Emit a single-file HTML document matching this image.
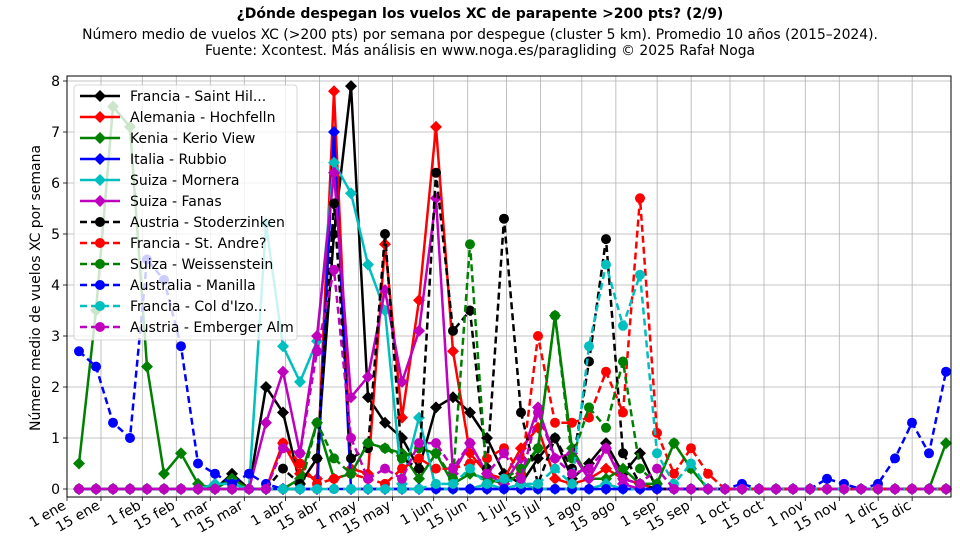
<!DOCTYPE html>
<html><head><meta charset="utf-8"><style>
body{margin:0;background:#fff;}
svg{display:block;font-family:"DejaVu Sans","Liberation Sans",sans-serif;}
</style></head><body>
<svg id="s" width="960" height="540" viewBox="0 0 960 540" xmlns="http://www.w3.org/2000/svg">
<rect width="960" height="540" fill="#fff"/>
<text x="480" y="18" text-anchor="middle" font-size="14" font-weight="bold">¿Dónde despegan los vuelos XC de parapente &gt;200 pts? (2/9)</text>
<text x="480" y="39" text-anchor="middle" font-size="13.9">Número medio de vuelos XC (&gt;200 pts) por semana por despegue (cluster 5 km). Promedio 10 años (2015–2024).</text>
<text x="480" y="55" text-anchor="middle" font-size="13.9">Fuente: Xcontest. Más análisis en www.noga.es/paragliding © 2025 Rafał Noga</text>
<g id="grid" stroke="#b0b0b0" stroke-width="0.8"></g>
<g id="data"></g>
<rect x="67" y="76" width="884" height="421" fill="none" stroke="#000" stroke-width="1"/>
<g font-size="14" text-anchor="end">
<text x="60" y="494">0</text><text x="60" y="443">1</text><text x="60" y="392">2</text><text x="60" y="341">3</text><text x="60" y="290">4</text><text x="60" y="239">5</text><text x="60" y="188">6</text><text x="60" y="137">7</text><text x="60" y="86">8</text>
</g>
<text transform="translate(40,288) rotate(-90)" text-anchor="middle" font-size="14">Número medio de vuelos XC por semana</text>
<g id="xl" font-size="14" text-anchor="end">
<text transform="translate(67,508) rotate(-30)">1 ene</text>
<text transform="translate(101,508) rotate(-30)">15 ene</text>
<text transform="translate(142,508) rotate(-30)">1 feb</text>
<text transform="translate(176,508) rotate(-30)">15 feb</text>
<text transform="translate(210,508) rotate(-30)">1 mar</text>
<text transform="translate(244,508) rotate(-30)">15 mar</text>
<text transform="translate(286,508) rotate(-30)">1 abr</text>
<text transform="translate(320,508) rotate(-30)">15 abr</text>
<text transform="translate(358,508) rotate(-30)">1 may</text>
<text transform="translate(392,508) rotate(-30)">15 may</text>
<text transform="translate(434,508) rotate(-30)">1 jun</text>
<text transform="translate(468,508) rotate(-30)">15 jun</text>
<text transform="translate(507,508) rotate(-30)">1 jul</text>
<text transform="translate(541,508) rotate(-30)">15 jul</text>
<text transform="translate(582,508) rotate(-30)">1 ago</text>
<text transform="translate(616,508) rotate(-30)">15 ago</text>
<text transform="translate(657,508) rotate(-30)">1 sep</text>
<text transform="translate(691,508) rotate(-30)">15 sep</text>
<text transform="translate(730,508) rotate(-30)">1 oct</text>
<text transform="translate(764,508) rotate(-30)">15 oct</text>
<text transform="translate(805,508) rotate(-30)">1 nov</text>
<text transform="translate(839,508) rotate(-30)">15 nov</text>
<text transform="translate(878,508) rotate(-30)">1 dic</text>
<text transform="translate(912,508) rotate(-30)">15 dic</text>
</g>
<g id="leg">
<rect x="74" y="85" width="223" height="255" rx="3" fill="#fff" fill-opacity="0.8" stroke="#ccc" stroke-width="0.8"/>
<g id="legmk"></g>
<g font-size="14">
<text x="130" y="101">Francia - Saint Hil...</text>
<text x="130" y="122">Alemania - Hochfelln</text>
<text x="130" y="143">Kenia - Kerio View</text>
<text x="130" y="164">Italia - Rubbio</text>
<text x="130" y="185">Suiza - Mornera</text>
<text x="130" y="206">Suiza - Fanas</text>
<text x="130" y="227">Austria - Stoderzinken</text>
<text x="130" y="248">Francia - St. Andre?</text>
<text x="130" y="269">Suiza - Weissenstein</text>
<text x="130" y="290">Australia - Manilla</text>
<text x="130" y="311">Francia - Col d'Izo...</text>
<text x="130" y="332">Austria - Emberger Alm</text>
</g>
</g>
</svg>
<script>
(function(){
var NS="http://www.w3.org/2000/svg";
function el(p,t,a){var e=document.createElementNS(NS,t);for(var k in a)e.setAttribute(k,a[k]);p.appendChild(e);return e;}
var grid=document.getElementById('grid');
var xt=[0,14,31,45,59,73,90,104,120,134,151,165,181,195,212,226,243,257,273,287,304,318,334,348];
xt.forEach(function(d){var x=67+d*17/7;el(grid,'line',{x1:x,x2:x,y1:76,y2:497});el(grid,'line',{x1:x,x2:x,y1:497,y2:501,stroke:'#000'});});
for(var v=0;v<=8;v++){var y=489-51*v;el(grid,'line',{x1:67,x2:951,y1:y,y2:y});el(grid,'line',{x1:63,x2:67,y1:y,y2:y,stroke:'#000'});}
function arr(o){var a=[];for(var i=0;i<52;i++)a.push(o[i]||0);return a;}
var S=[
{c:'#000',d:0,m:'D',v:arr({9:0.3,11:2.0,12:1.5,13:0.1,14:0.6,15:5.0,16:7.9,17:1.8,18:1.3,19:1.0,20:0.4,21:1.6,22:1.8,23:1.5,24:1.0,25:0.3,26:0.1,27:0.6,28:1.0,29:0.2,30:0.5,31:0.9,32:0.3,33:0.7})},
{c:'#ff0000',d:0,m:'D',v:arr({12:0.9,13:0.3,14:0.2,15:7.8,16:0.4,17:0.3,18:4.8,19:1.4,20:3.7,21:7.1,22:2.7,23:0.7,24:0.3,25:0.2,26:0.8,27:1.2,28:0.2,29:0.1,30:0.2,31:0.4,32:0.2,33:0.1})},
{c:'#008000',d:0,m:'D',v:arr({0:0.5,1:3.5,2:7.5,3:7.1,4:2.4,5:0.3,6:0.7,7:0.1,9:0.2,13:0.2,14:1.3,15:0.2,16:0.3,17:0.9,18:0.8,19:0.7,20:0.2,21:0.7,22:0.1,23:0.3,24:0.2,25:0.1,26:0.3,27:0.8,28:3.4,29:0.8,30:0.2,31:0.2,32:0.4,33:0.1,34:0.1,35:0.9,36:0.4,51:0.9})},
{c:'#0000ff',d:0,m:'D',v:arr({15:7.0})},
{c:'#00bfbf',d:0,m:'D',v:arr({8:0.1,9:0.1,11:5.2,12:2.8,13:2.1,14:2.9,15:6.4,16:5.8,17:4.4,18:3.5,19:0.1,20:1.4,21:0,24:0.1,26:0.1,31:0.1})},
{c:'#bf00bf',d:0,m:'D',v:arr({11:1.3,12:2.3,13:0.7,14:3.0,15:6.2,16:1.8,17:2.2,18:3.9,19:2.1,20:3.1,21:5.7,22:0.3,23:0.9,24:0.3,25:0.1,26:0.6,27:1.6,28:0.6,29:0.7,30:0.2,31:0.8,32:0.1})},
{c:'#000',d:1,m:'o',v:arr({12:0.4,13:0.1,14:0.6,15:5.6,16:0.6,17:0.8,18:5.0,19:0.6,20:0.4,21:6.2,22:3.1,23:3.5,24:0.4,25:5.3,26:1.5,27:0.1,28:1.0,29:0.4,30:2.5,31:4.9,32:0.7,33:0.1})},
{c:'#ff0000',d:1,m:'o',v:arr({12:0.9,13:0.5,14:0.1,15:0.2,16:0.3,17:0.2,18:0.1,19:0.4,20:0.6,21:0.4,22:0.4,23:0.5,24:0.6,25:0.8,26:0.3,27:3.0,28:1.3,29:1.3,30:1.4,31:2.3,32:1.5,33:5.7,34:1.1,35:0.3,36:0.8,37:0.3})},
{c:'#008000',d:1,m:'o',v:arr({14:1.3,15:0.6,16:0.3,17:0.9,18:0.8,19:0.6,20:0.8,21:0.7,22:0.2,23:4.8,24:0.1,25:0.2,26:0.4,27:0.8,28:3.4,29:0.6,30:1.6,31:1.2,32:2.5,33:0.4,34:0.1,35:0.9,36:0.4})},
{c:'#0000ff',d:1,m:'o',v:arr({0:2.7,1:2.4,2:1.3,3:1.0,4:4.5,5:4.1,6:2.8,7:0.5,8:0.3,9:0.1,10:0.3,11:0.1,39:0.1,44:0.2,45:0.1,47:0.1,48:0.6,49:1.3,50:0.7,51:2.3})},
{c:'#00bfbf',d:1,m:'o',v:arr({21:0.1,22:0.1,23:0.4,24:0.1,25:0.2,26:0.1,27:0.1,28:0.4,29:0.1,30:2.8,31:4.4,32:3.2,33:4.2,34:0.7,35:0.1,36:0.5})},
{c:'#bf00bf',d:1,m:'o',v:arr({12:0.8,13:0.7,14:2.7,15:4.3,16:1.0,17:0.2,18:0.4,19:0.2,20:0.9,21:0.9,22:0.4,23:0.9,24:0.3,25:0.7,26:0.2,27:1.5,28:0.6,29:0.3,30:0.4,31:0.8,32:0.2,33:0.1,34:0.4})}
];
var g=document.getElementById('data');
function mk(p,m,x,y,c){if(m=='D')el(p,'polygon',{points:(x)+','+(y-6)+' '+(x+6)+','+y+' '+x+','+(y+6)+' '+(x-6)+','+y,fill:c});else el(p,'circle',{cx:x,cy:y,r:5,fill:c});}
S.forEach(function(s){
var pts=s.v.map(function(v,i){return [79+17*i,489-51*v];});
var a={points:pts.map(function(p){return p.join(',');}).join(' '),fill:'none',stroke:s.c,'stroke-width':2.5,'stroke-linejoin':'round'};
if(s.d)a['stroke-dasharray']='7,4';
el(g,'polyline',a);
pts.forEach(function(p){mk(g,s.m,p[0],p[1],s.c);});
});
var lg=document.getElementById('legmk');
S.forEach(function(s,i){var y=96+21*i;var a={x1:80,x2:120,y1:y,y2:y,stroke:s.c,'stroke-width':2.5};if(s.d)a['stroke-dasharray']='7,4';el(lg,'line',a);mk(lg,s.m,100,y,s.c);});
})();
</script>
</body></html>
